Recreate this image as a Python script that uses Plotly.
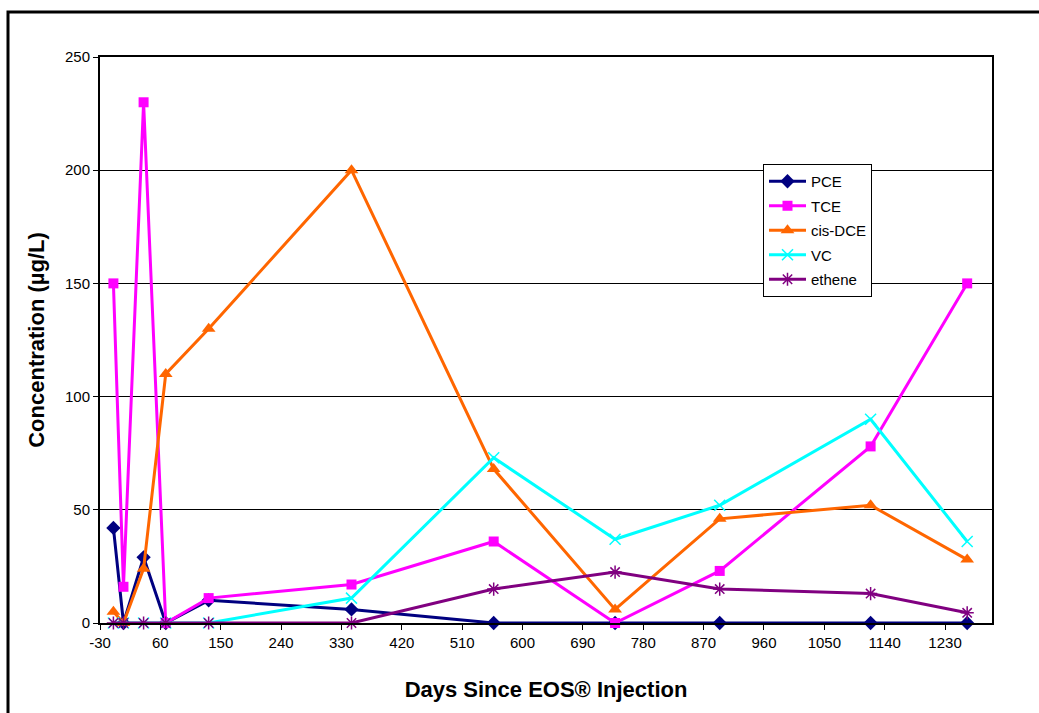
import plotly.graph_objects as go

days = [-10, 5, 35, 68, 132, 345, 557, 738, 894, 1119, 1263]
pce = [42, 0, 29, 0, 10, 6, 0, 0, 0, 0, 0]
tce = [150, 16, 230, 0, 11, 17, 36, 0, 23, 78, 150]
cis_dce = [5, 0, 24, 110, 130, 200, 68, 6, 46, 52, 28]
vc = [0, 0, 0, 0, 0, 11, 73, 37, 52, 90, 36]
ethene = [0, 0, 0, 0, 0, 0, 15, 22.5, 15, 13, 4.5]

x_ticks = [-30, 60, 150, 240, 330, 420, 510, 600, 690, 780, 870, 960, 1050, 1140, 1230]
y_ticks = [0, 50, 100, 150, 200, 250]

series = [
    ("PCE", pce, "#000080", "diamond", 11),
    ("TCE", tce, "#FF00FF", "square", 10),
    ("cis-DCE", cis_dce, "#FF6600", "triangle-up", 12),
    ("VC", vc, "#00FFFF", "x-thin-open", 11),
    ("ethene", ethene, "#800080", "asterisk-open", 11),
]

fig = go.Figure()
for name, vals, color, sym, size in series:
    fig.add_trace(go.Scatter(
        x=days, y=vals, name=name, mode="lines+markers",
        legendgroup=name,
        line=dict(color=color, width=3),
        marker=dict(symbol=sym, size=size, color=color,
                    line=dict(color=color, width=1.5 if "open" in sym else 0)),
        cliponaxis=False,
    ))

L, R, T, B = 100, 47, 57, 90
W, H = 1039, 713
pw, ph = W - L - R, H - T - B

fig.update_layout(
    width=W, height=H,
    margin=dict(l=L, r=R, t=T, b=B),
    paper_bgcolor="white", plot_bgcolor="white",
    font=dict(family="Liberation Sans, Arial, sans-serif", size=15, color="black"),
    showlegend=True,
    legend=dict(
        x=(763 - L) / pw, y=(623 - 164) / ph, xanchor="left", yanchor="top",
        bgcolor="white", bordercolor="black", borderwidth=1,
        font=dict(size=15), tracegroupgap=2, traceorder="grouped",
        itemwidth=37,
    ),
    xaxis=dict(
        range=[-30, 1300], tickvals=x_ticks, ticktext=[str(v) for v in x_ticks],
        ticks="outside", ticklen=5, tickcolor="black", tickfont=dict(size=15),
        showline=True, linecolor="black", linewidth=2, mirror=True,
        showgrid=False, zeroline=False,
        title=dict(text="<b>Days Since EOS® Injection</b>", font=dict(size=22), standoff=32),
    ),
    yaxis=dict(
        range=[0, 250], tickvals=y_ticks,
        ticks="outside", ticklen=5, tickcolor="black", tickfont=dict(size=15),
        showline=True, linecolor="black", linewidth=2, mirror=True,
        showgrid=True, gridcolor="black", gridwidth=1, zeroline=False,
        title=dict(text="<b>Concentration (µg/L)</b>", font=dict(size=22), standoff=14),
    ),
)

# outer chart border
fig.add_shape(type="rect", xref="paper", yref="paper",
              x0=(8 - L) / pw, x1=(1045 - L) / pw,
              y0=-(730 - 623) / ph, y1=(623 - 12) / ph,
              line=dict(color="black", width=3), layer="below")

fig.write_html("out.html", config={"displayModeBar": False},
               post_script="document.body.style.margin='0';")
